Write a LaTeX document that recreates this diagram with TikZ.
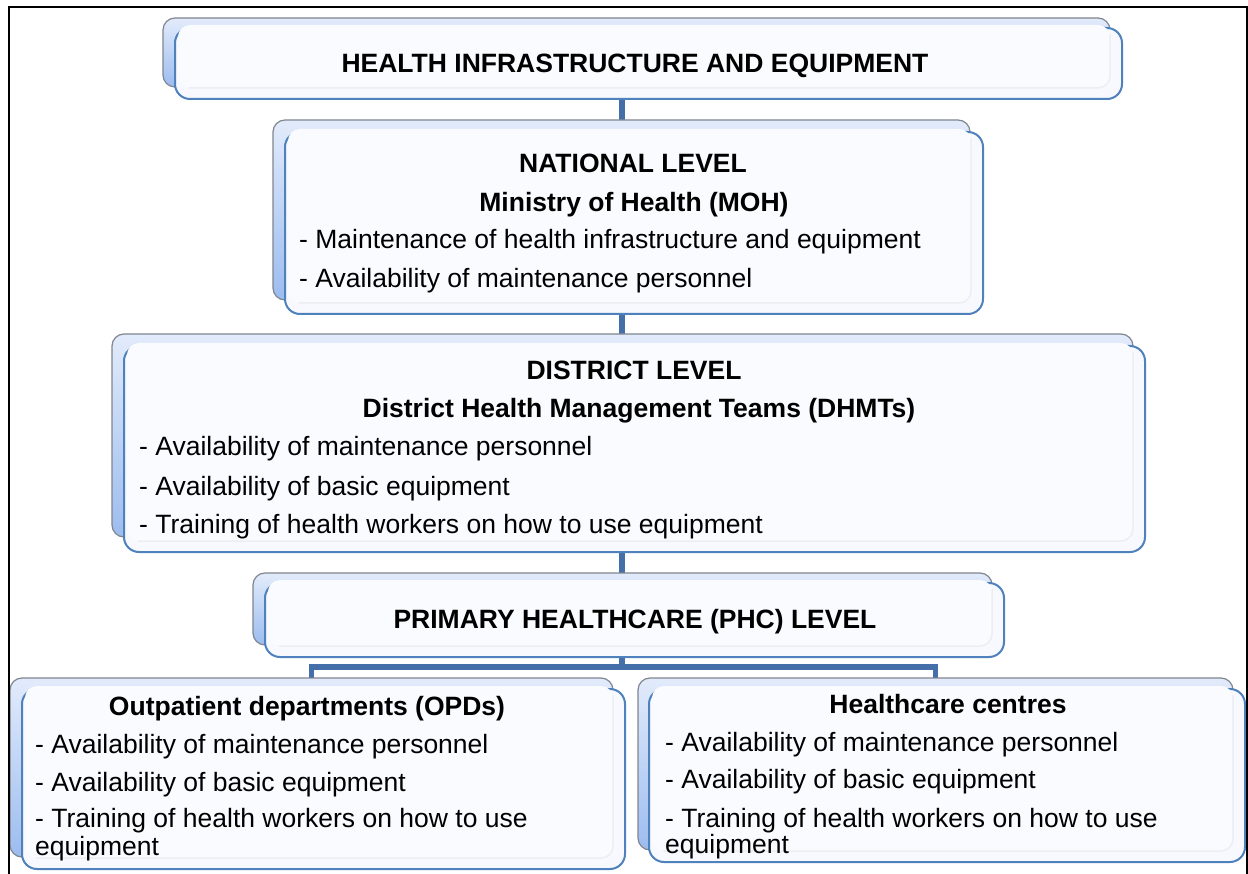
\documentclass[tikz,border=0pt]{standalone}
\usepackage{fontspec}
\setmainfont{Liberation Sans}
\usetikzlibrary{backgrounds}
\definecolor{frontblue}{HTML}{4F81BD}
\definecolor{linkblue}{HTML}{456FA8}
\definecolor{backtop}{HTML}{E2EBFB}
\definecolor{backbot}{HTML}{9CBCEF}
\definecolor{backedge}{HTML}{80868F}
\definecolor{frontfill}{HTML}{F7F9FE}
\definecolor{innerfill}{HTML}{FAFBFE}
\definecolor{innershade}{HTML}{ECEEF2}
\tikzset{
 backbox/.style={draw=backedge, line width=1.2pt, rounded corners=12pt, top color=backtop, bottom color=backbot, inner sep=0pt, outer sep=0pt},
 frontbox/.style={draw=frontblue, line width=2pt, fill=frontfill, rounded corners=15pt, inner sep=0pt, outer sep=0pt},
 innerbox/.style={fill=innerfill, rounded corners=12pt},
 innerline/.style={draw=innershade, line width=1.5pt, rounded corners=12pt},
 link/.style={draw=linkblue, line width=5.5pt},
 txt/.style={inner sep=0pt, font=\fontsize{26.5}{30}\selectfont},
 hd/.style={inner sep=0pt, font=\fontsize{26.5}{30}\selectfont\bfseries, anchor=base},
 ln/.style={txt, anchor=base west},
}
\newcommand{\innerpanel}[1]{%
 \path[innerbox] ([xshift=3pt,yshift=3pt]#1.north west) rectangle ([xshift=-12pt,yshift=11pt]#1.south east);
 \draw[innerline] ([xshift=14pt,yshift=11pt]#1.south west) -- ([xshift=-12pt,yshift=11pt]#1.south east) -- ([xshift=-12pt,yshift=-6pt]#1.north east);}
\begin{document}
\begin{tikzpicture}[x=1pt,y=-1pt]
\useasboundingbox (0,0) rectangle (1248,874);
\coordinate (spine) at (622,0);
% boxes: back then front
\node[backbox, minimum width=947pt, minimum height=69pt] (titleb) at (636.5,52.5) {};
\node[frontbox, minimum width=947pt, minimum height=71pt] (title) at (648.5,63.5) {};
\innerpanel{title}
\node[backbox, minimum width=697pt, minimum height=180pt] (natb) at (621.5,210) {};
\node[frontbox, minimum width=698pt, minimum height=182pt] (nat) at (634,223) {};
\innerpanel{nat}
\node[backbox, minimum width=1021pt, minimum height=203pt] (distb) at (622.5,435.5) {};
\node[frontbox, minimum width=1021pt, minimum height=206pt] (dist) at (634.5,449) {};
\innerpanel{dist}
\node[backbox, minimum width=739pt, minimum height=72pt] (phcb) at (622.5,609) {};
\node[frontbox, minimum width=739pt, minimum height=74pt] (phc) at (634.5,620) {};
\innerpanel{phc}
\node[backbox, minimum width=603pt, minimum height=179pt] (opdb) at (311.5,767.5) {};
\node[frontbox, minimum width=603pt, minimum height=180pt] (opd) at (323.5,779) {};
\innerpanel{opd}
\node[backbox, minimum width=595pt, minimum height=172pt] (hcb) at (935.5,764) {};
\node[frontbox, minimum width=596pt, minimum height=173pt] (hc) at (947,775.5) {};
\innerpanel{hc}
% connectors behind boxes
\begin{scope}[on background layer]
\fill[white] (0,0) rectangle (1248,874);
\draw[link] (spine |- title.south) -- (spine |- natb.north);
\draw[link] (spine |- nat.south) -- (spine |- distb.north);
\draw[link] (spine |- dist.south) -- (spine |- phcb.north);
\coordinate (branch) at (622,667);
\draw[link] (spine |- phc.south) -- (branch);
\draw[link] (opdb.north) |- (branch) -| (hcb.north);
\end{scope}
% texts
\node[hd] (t1) at (635,73) {HEALTH INFRASTRUCTURE AND EQUIPMENT};
\node[hd] (n1) at (633,173) {NATIONAL LEVEL};
\node[hd] (n2) at (634,212) {Ministry of Health (MOH)};
\node[ln] (n3) at (299,249) {- Maintenance of health infrastructure and equipment};
\node[ln] (n4) at (299,288) {- Availability of maintenance personnel};
\node[hd] (d1) at (634,380) {DISTRICT LEVEL};
\node[hd] (d2) at (639,418) {District Health Management Teams (DHMTs)};
\node[ln] (d3) at (139,456) {- Availability of maintenance personnel};
\node[ln] (d4) at (139,495) {- Availability of basic equipment};
\node[ln] (d5) at (139,533) {- Training of health workers on how to use equipment};
\node[hd] (p1) at (635,628) {PRIMARY HEALTHCARE (PHC) LEVEL};
\node[hd] (o1) at (307,715) {Outpatient departments (OPDs)};
\node[ln] (o2) at (35,753) {- Availability of maintenance personnel};
\node[ln] (o3) at (35,791) {- Availability of basic equipment};
\node[ln] (o4) at (35,827) {- Training of health workers on how to use};
\node[ln] (o5) at (35,855) {equipment};
\node[hd] (h1) at (948,713) {Healthcare centres};
\node[ln] (h2) at (665,751) {- Availability of maintenance personnel};
\node[ln] (h3) at (665,788) {- Availability of basic equipment};
\node[ln] (h4) at (665,827) {- Training of health workers on how to use};
\node[ln] (h5) at (665,853) {equipment};
% outer frame
\draw[line width=2pt] (9,880) -- (9,7) -- (1247,7) -- (1247,880);
\end{tikzpicture}
\end{document}
